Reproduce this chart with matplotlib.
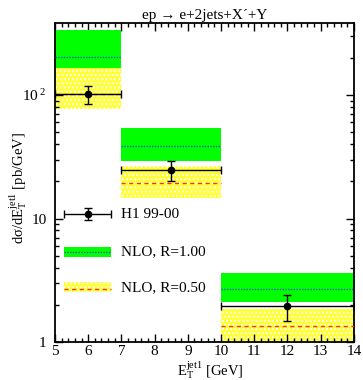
import matplotlib

matplotlib.use("Agg")
import matplotlib.pyplot as plt
from matplotlib.patches import Rectangle
from matplotlib.ticker import MultipleLocator, FixedLocator, FixedFormatter, LogLocator, NullFormatter

plt.rcParams["font.family"] = ["Liberation Serif", "DejaVu Serif"]
plt.rcParams["mathtext.fontset"] = "custom"
plt.rcParams["mathtext.rm"] = "Liberation Serif"
plt.rcParams["mathtext.it"] = "Liberation Serif:italic"

# bins in E_T^jet1 [GeV]
bin_lo = [5, 7, 10]
bin_hi = [7, 10, 14]

# H1 99-00 data
h1_x = [6.0, 8.5, 12.0]
h1_y = [101.0, 24.7, 1.94]
h1_lo = [84.5, 20.0, 1.48]
h1_hi = [119.0, 29.4, 2.40]

# NLO, R=1.00
nlo1_c = [203.0, 38.4, 2.70]
nlo1_lo = [165.0, 29.4, 2.10]
nlo1_hi = [336.0, 53.7, 3.60]

# NLO, R=0.50
nlo05_c = [101.0, 19.4, 1.36]
nlo05_lo = [77.0, 14.7, 0.98]
nlo05_hi = [170.0, 26.8, 1.84]

GREEN = "#00ff00"
YELLOW = "#ffff33"

fig = plt.figure(figsize=(3.63, 3.80), dpi=100)
ax = fig.add_axes([0.1515, 0.10, 0.8235, 0.8395])
ax.set_yscale("log")
ax.set_xlim(5, 14)
ax.set_ylim(1, 383)


def yellow_band(x0, w, y0, h, transform):
    ax.add_patch(Rectangle((x0, y0), w, h, facecolor=YELLOW, edgecolor="white",
                           hatch="....", linewidth=0, transform=transform, zorder=1))


for lo, hi, c, blo, bhi in zip(bin_lo, bin_hi, nlo05_c, nlo05_lo, nlo05_hi):
    yellow_band(lo, hi - lo, blo, bhi - blo, ax.transData)
    ax.plot([lo, hi], [c, c], color="#ff3300", linestyle=(0, (3, 2.5)), linewidth=1.0, zorder=3)

for lo, hi, c, blo, bhi in zip(bin_lo, bin_hi, nlo1_c, nlo1_lo, nlo1_hi):
    ax.add_patch(Rectangle((lo, blo), hi - lo, bhi - blo, facecolor=GREEN,
                           edgecolor="none", zorder=2))
    ax.plot([lo, hi], [c, c], color="#2255cc", linestyle=(0, (1, 1)), linewidth=1.0, zorder=3)

xerr = [[x - lo for x, lo in zip(h1_x, bin_lo)], [hi - x for x, hi in zip(h1_x, bin_hi)]]
yerr = [[y - lo for y, lo in zip(h1_y, h1_lo)], [hi - y for y, hi in zip(h1_y, h1_hi)]]
ax.errorbar(h1_x, h1_y, xerr=xerr, yerr=yerr, fmt="o", color="black", markersize=4.5,
            elinewidth=1.0, capsize=3, capthick=1.0, zorder=5)

# legend drawn by hand
tr = ax.transAxes
ax.errorbar([0.11], [0.401], xerr=[[0.08], [0.077]], yerr=[[0.018], [0.018]], fmt="o",
            color="black", markersize=4.5, elinewidth=1.0, capsize=3, transform=tr,
            clip_on=False, zorder=5)
ax.text(0.221, 0.401, "H1 99-00", transform=tr, va="center", ha="left", fontsize=11)

ax.add_patch(Rectangle((0.030, 0.266), 0.157, 0.032, facecolor=GREEN, edgecolor="none",
                       transform=tr, zorder=2))
ax.plot([0.030, 0.187], [0.282, 0.282], color="#2255cc", linestyle=(0, (1, 1)),
        linewidth=1.0, transform=tr, zorder=3)
ax.text(0.221, 0.282, "NLO, R=1.00", transform=tr, va="center", ha="left", fontsize=11)

yellow_band(0.030, 0.157, 0.158, 0.030, tr)
ax.plot([0.030, 0.187], [0.166, 0.166], color="#ff3300", linestyle=(0, (3, 2.5)),
        linewidth=1.0, transform=tr, zorder=3)
ax.text(0.221, 0.170, "NLO, R=0.50", transform=tr, va="center", ha="left", fontsize=11)

# axes styling
ax.xaxis.set_major_locator(MultipleLocator(1))
ax.xaxis.set_minor_locator(MultipleLocator(0.2))
ax.yaxis.set_major_locator(FixedLocator([1, 10, 100]))
ax.yaxis.set_major_formatter(FixedFormatter(["1", "10", "10$^{\\ 2}$"]))
ax.yaxis.set_minor_locator(LogLocator(base=10, subs=range(2, 10)))
ax.yaxis.set_minor_formatter(NullFormatter())
ax.tick_params(which="both", direction="in", top=True, right=True, labelsize=11, width=1.0)
ax.tick_params(which="major", length=6)
ax.tick_params(which="minor", length=3)
ax.tick_params(axis="y", which="major", pad=6)
ax.tick_params(axis="x", which="major", pad=2)
for s in ax.spines.values():
    s.set_linewidth(1.3)

ax.set_title("ep → e+2jets+X´+Y", fontsize=11, pad=3)
ax.set_xlabel("E$_{\\rm T}^{\\rm jet1}$ [GeV]", fontsize=10.5)
ax.xaxis.set_label_coords(0.52, -0.052)
ax.set_ylabel("dσ/dE$_{\\rm T}^{\\rm jet1}$ [pb/GeV]", fontsize=10.5)
ax.yaxis.set_label_coords(-0.088, 0.483)

fig.savefig("out.png", dpi=100)
